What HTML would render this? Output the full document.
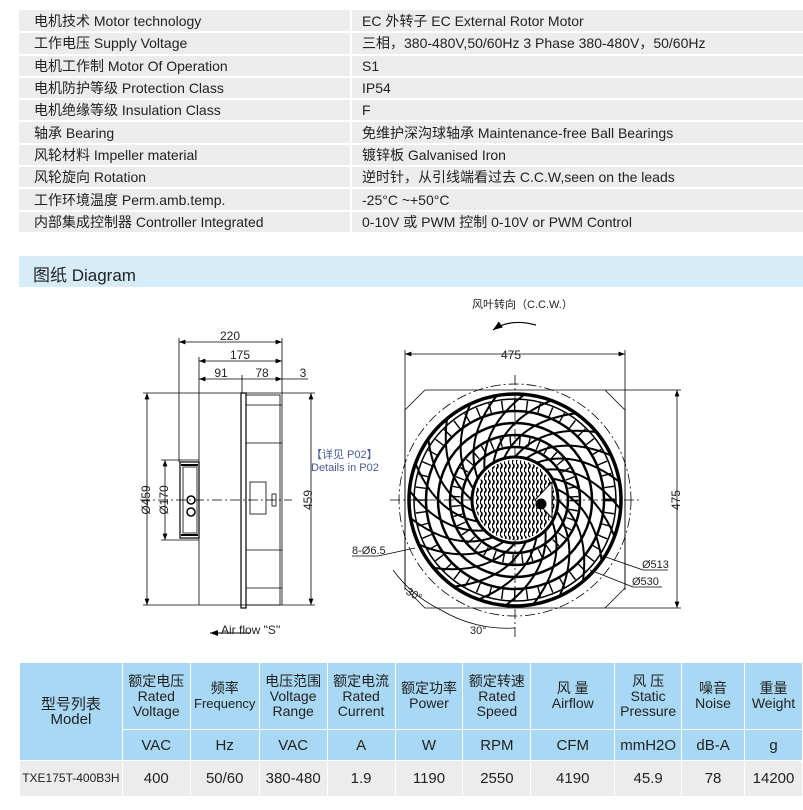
<!DOCTYPE html>
<html><head><meta charset="utf-8"><style>
*{margin:0;padding:0;box-sizing:border-box}
body{width:803px;height:810px;background:#fff;position:relative;overflow:hidden;font-family:"Liberation Sans","Noto Sans CJK SC",sans-serif;color:#222}
.spec{position:absolute;left:19px;top:10px;width:784px;border-collapse:collapse}
.spec td{height:22.3px;font-size:14px;padding:0 0 0 10px;background:#ececec;border-bottom:2px solid #fff;white-space:nowrap}
.spec td.l{width:332px;border-right:2px solid #fff;padding-left:15px}
.hdr{position:absolute;left:19px;top:256px;width:784px;height:31px;background:#d6ecf9;font-size:17px;padding:5px 0 0 14px;color:#222}
.bt{position:absolute;left:19px;top:662px;border-collapse:collapse;table-layout:fixed}
.bt td{text-align:center;border:1.5px solid #fff;font-size:14px;line-height:15px;padding:0}
.bt tr.h td{background:#a8d8f3;height:67px}
.bt tr.u td{background:#a8d8f3;height:31px;font-size:15px}
.bt tr.d td{background:#ececec;height:36px;font-size:15px}
svg{position:absolute;left:0;top:0}
</style></head><body>
<table class="spec">
<tr><td class="l">电机技术 Motor technology</td><td>EC 外转子 EC External Rotor Motor</td></tr>
<tr><td class="l">工作电压 Supply Voltage</td><td>三相，380-480V,50/60Hz 3 Phase 380-480V，50/60Hz</td></tr>
<tr><td class="l">电机工作制 Motor Of Operation</td><td>S1</td></tr>
<tr><td class="l">电机防护等级 Protection Class</td><td>IP54</td></tr>
<tr><td class="l">电机绝缘等级 Insulation Class</td><td>F</td></tr>
<tr><td class="l">轴承 Bearing</td><td>免维护深沟球轴承 Maintenance-free Ball Bearings</td></tr>
<tr><td class="l">风轮材料 Impeller material</td><td>镀锌板 Galvanised Iron</td></tr>
<tr><td class="l">风轮旋向 Rotation</td><td>逆时针，从引线端看过去 C.C.W,seen on the leads</td></tr>
<tr><td class="l">工作环境温度 Perm.amb.temp.</td><td>-25°C ~+50°C</td></tr>
<tr><td class="l">内部集成控制器 Controller Integrated</td><td>0-10V 或 PWM 控制 0-10V or PWM Control</td></tr>
</table>
<div class="hdr">图纸 Diagram</div>

<svg width="803" height="660" viewBox="0 0 803 660" font-family="Liberation Sans, Noto Sans CJK SC, sans-serif">
<defs>
<pattern id="wv" width="4" height="8" patternUnits="userSpaceOnUse"><path d="M1 0 Q3 2 1 4 Q-1 6 1 8" stroke="#000" stroke-width="1.6" fill="none"/></pattern>
<marker id="a" markerWidth="8" markerHeight="6" refX="8" refY="3" orient="auto"><path d="M0 0L8 3L0 6z" fill="#000"/></marker>
<marker id="b" markerWidth="8" markerHeight="6" refX="0" refY="3" orient="auto"><path d="M8 0L0 3L8 6z" fill="#000"/></marker>
<path id="sp" d="M43 0 Q75 27 68 81" fill="none" stroke="#000" stroke-width="2"/>
</defs>
<g stroke="#000" stroke-width="0.8" fill="none">
<line x1="179" y1="342" x2="282" y2="342" marker-start="url(#b)" marker-end="url(#a)"/>
<line x1="199" y1="361" x2="282" y2="361" marker-start="url(#b)" marker-end="url(#a)"/>
<line x1="199" y1="379" x2="242" y2="379" marker-start="url(#b)"/>
<line x1="242" y1="379" x2="282" y2="379" marker-end="url(#a)"/>
<line x1="282" y1="379" x2="308" y2="379"/>
<line x1="179" y1="338" x2="179" y2="462"/>
<line x1="199" y1="357" x2="199" y2="605"/>
<line x1="282" y1="338" x2="282" y2="605"/>
<line x1="242" y1="375" x2="242" y2="393"/>
<line x1="147" y1="393" x2="147" y2="605" marker-start="url(#b)" marker-end="url(#a)"/>
<line x1="165" y1="460" x2="165" y2="540" marker-start="url(#b)" marker-end="url(#a)"/>
<line x1="311" y1="393" x2="311" y2="605" marker-start="url(#b)" marker-end="url(#a)"/>
<line x1="143" y1="393" x2="315" y2="393"/>
<line x1="143" y1="605" x2="315" y2="605"/>
<line x1="161" y1="460" x2="199" y2="460"/>
<line x1="161" y1="540" x2="199" y2="540"/>
<rect x="241" y="393" width="5" height="215" stroke-width="1.2"/>
<rect x="246" y="395" width="34" height="210"/>
<line x1="246" y1="405" x2="282" y2="405"/><line x1="246" y1="443" x2="282" y2="443"/>
<line x1="246" y1="550" x2="282" y2="550"/><line x1="246" y1="588" x2="282" y2="588"/>
<rect x="180" y="462" width="19" height="76" stroke-width="1.2"/>
<rect x="183" y="467" width="14" height="66"/>
<line x1="181" y1="465" x2="198" y2="465" stroke-width="2"/>
<line x1="181" y1="535" x2="198" y2="535" stroke-width="2"/>
<circle cx="191" cy="500" r="4" stroke-width="1.5"/><circle cx="191" cy="512" r="4" stroke-width="1.5"/>
<rect x="250" y="482" width="16" height="32"/>
<rect x="272" y="494" width="4" height="12"/>
<line x1="140" y1="500" x2="292" y2="500" stroke-dasharray="10 3 2 3"/>
<line x1="250" y1="633" x2="210" y2="633" stroke-width="1" marker-end="url(#a)"/>
<path d="M425 390 H605 L625 410 V588 L605 608 H425 L405 588 V410 Z"/>
<line x1="405" y1="354" x2="625" y2="354" marker-start="url(#b)" marker-end="url(#a)"/>
<line x1="405" y1="350" x2="405" y2="590"/><line x1="625" y1="350" x2="625" y2="590"/>
<line x1="677" y1="390" x2="677" y2="608" marker-start="url(#b)" marker-end="url(#a)"/>
<line x1="605" y1="390" x2="681" y2="390"/><line x1="605" y1="608" x2="681" y2="608"/>
<circle cx="515" cy="500" r="116" stroke-dasharray="10 3 2 3"/>
<line x1="390" y1="500" x2="640" y2="500" stroke-dasharray="10 3 2 3"/>
<line x1="515" y1="375" x2="515" y2="640" stroke-dasharray="10 3 2 3"/>
<path d="M493 330 Q510 318 536 325" marker-start="url(#b)" stroke-width="1.2"/>
<line x1="600" y1="555" x2="643" y2="570"/><line x1="643" y1="570" x2="668" y2="570"/>
<line x1="590" y1="570" x2="633" y2="587"/><line x1="633" y1="587" x2="662" y2="587"/>
<line x1="352" y1="556" x2="378" y2="556"/><line x1="378" y1="556" x2="415" y2="548"/>
<path d="M393 570 A128 128 0 0 0 441 610"/>
<path d="M441 610 A128 128 0 0 0 515 628"/>
</g>
<g fill="none" stroke="#000">
<circle cx="515" cy="500" r="106" stroke-width="3.5"/>
<circle cx="515" cy="500" r="101" stroke-width="1.5"/>
<circle cx="515" cy="500" r="95" stroke-width="10" stroke-dasharray="1.4 11"/>
<circle cx="515" cy="500" r="89" stroke-width="2.5"/>
<circle cx="515" cy="500" r="77" stroke-width="2.5"/>
<circle cx="515" cy="500" r="65" stroke-width="2.5"/>
<circle cx="515" cy="500" r="59" stroke-width="9" stroke-dasharray="1.4 8"/>
<circle cx="515" cy="500" r="53" stroke-width="2.5"/>
<circle cx="515" cy="500" r="43" stroke-width="3"/>
<g transform="translate(515 500)">
<use href="#sp"/><use href="#sp" transform="rotate(15)"/><use href="#sp" transform="rotate(30)"/><use href="#sp" transform="rotate(45)"/><use href="#sp" transform="rotate(60)"/><use href="#sp" transform="rotate(75)"/><use href="#sp" transform="rotate(90)"/><use href="#sp" transform="rotate(105)"/><use href="#sp" transform="rotate(120)"/><use href="#sp" transform="rotate(135)"/><use href="#sp" transform="rotate(150)"/><use href="#sp" transform="rotate(165)"/><use href="#sp" transform="rotate(180)"/><use href="#sp" transform="rotate(195)"/><use href="#sp" transform="rotate(210)"/><use href="#sp" transform="rotate(225)"/><use href="#sp" transform="rotate(240)"/><use href="#sp" transform="rotate(255)"/><use href="#sp" transform="rotate(270)"/><use href="#sp" transform="rotate(285)"/><use href="#sp" transform="rotate(300)"/><use href="#sp" transform="rotate(315)"/><use href="#sp" transform="rotate(330)"/><use href="#sp" transform="rotate(345)"/>
</g>
<circle cx="515" cy="500" r="40" fill="#fff" stroke="none"/>
<circle cx="515" cy="500" r="40" fill="url(#wv)" stroke="none"/>
<path d="M535 500 L552 482 L552 518 Z" fill="#fff" stroke-width="1"/>
<circle cx="541" cy="504" r="5" fill="#000"/>
</g>
<g font-size="12" fill="#222">
<text x="230" y="340" text-anchor="middle">220</text>
<text x="240" y="359" text-anchor="middle">175</text>
<text x="221" y="377" text-anchor="middle">91</text>
<text x="262" y="377" text-anchor="middle">78</text>
<text x="303" y="377" text-anchor="middle">3</text>
<text transform="translate(150 500) rotate(-90)" text-anchor="middle">Ø459</text>
<text transform="translate(168 500) rotate(-90)" text-anchor="middle">Ø170</text>
<text transform="translate(312 500) rotate(-90)" text-anchor="middle">459</text>
<text x="221" y="634">Air flow "S"</text>
<text x="511" y="359" text-anchor="middle">475</text>
<text transform="translate(680 500) rotate(-90)" text-anchor="middle">475</text>
<text x="642" y="568" font-size="11">Ø513</text>
<text x="632" y="585" font-size="11">Ø530</text>
<text x="352" y="554" font-size="11">8-Ø6.5</text>
<text x="406" y="598" font-size="11" transform="rotate(30 414 594)">30°</text>
<text x="470" y="634" font-size="11">30°</text>
<text x="472" y="308" font-size="11">风叶转向（C.C.W.）</text>
</g>
<g font-size="11" fill="#4a5a9a">
<text x="311" y="458">【详见 P02】</text>
<text x="311" y="471">Details in P02</text>
</g>
</svg>

<table class="bt">
<colgroup><col style="width:103px"><col style="width:68px"><col style="width:69px"><col style="width:68px"><col style="width:68px"><col style="width:68px"><col style="width:68px"><col style="width:84px"><col style="width:67px"><col style="width:63px"><col style="width:58px"></colgroup>
<tr class="h"><td rowspan="2" style="font-size:15px">型号列表<br>Model</td><td>额定电压<br>Rated<br>Voltage</td><td>频率<br><span style="font-size:13px">Frequency</span></td><td>电压范围<br>Voltage<br>Range</td><td>额定电流<br>Rated<br>Current</td><td>额定功率<br>Power</td><td>额定转速<br>Rated<br>Speed</td><td>风 量<br>Airflow</td><td>风 压<br>Static<br>Pressure</td><td>噪音<br>Noise</td><td>重量<br>Weight</td></tr>
<tr class="u"><td>VAC</td><td>Hz</td><td>VAC</td><td>A</td><td>W</td><td>RPM</td><td>CFM</td><td>mmH2O</td><td>dB-A</td><td>g</td></tr>
<tr class="d"><td style="font-size:12px">TXE175T-400B3H</td><td>400</td><td>50/60</td><td>380-480</td><td>1.9</td><td>1190</td><td>2550</td><td>4190</td><td>45.9</td><td>78</td><td>14200</td></tr>
</table>
</body></html>
